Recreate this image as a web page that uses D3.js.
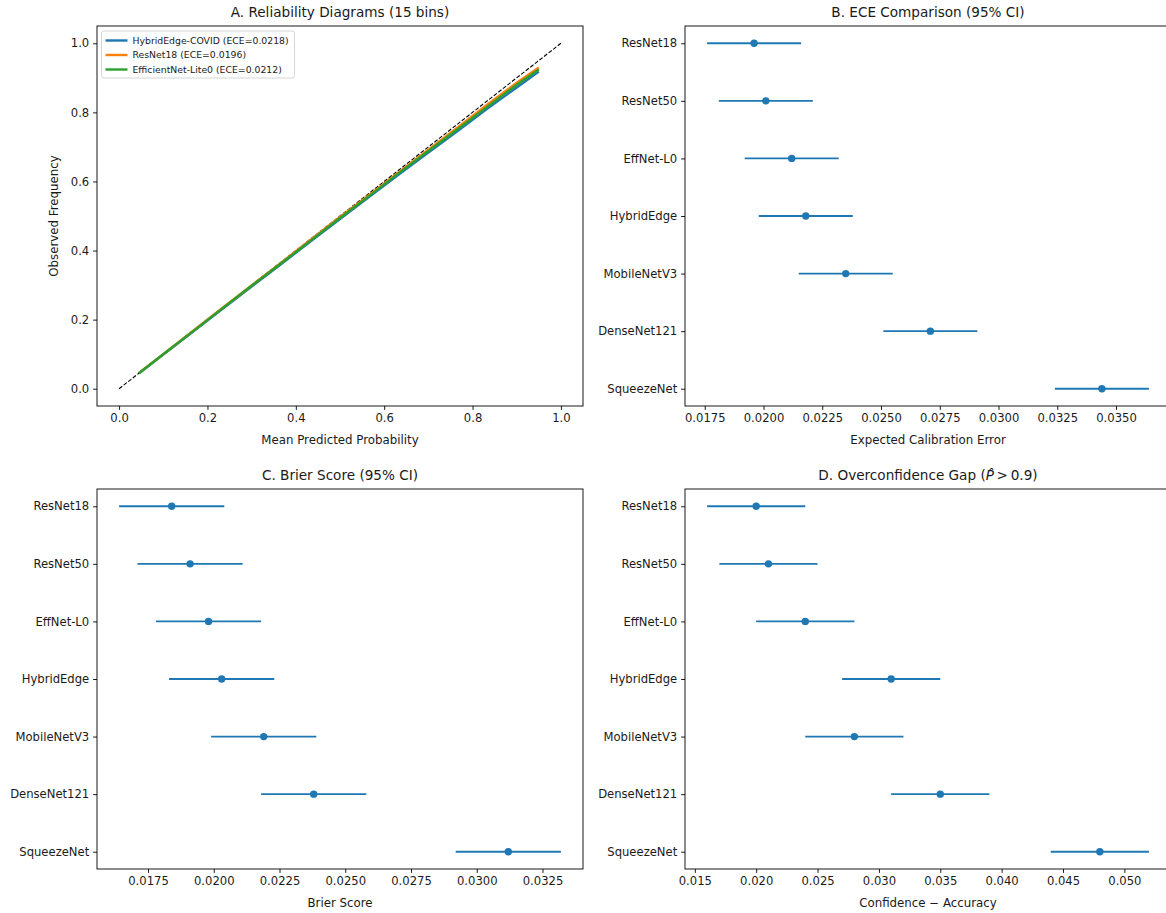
<!DOCTYPE html>
<html>
<head>
<meta charset="utf-8">
<script src="https://cdn.jsdelivr.net/npm/d3@7"></script>
<style>
  body { margin: 0; background: #fff; }
  svg { display: block; font-family: "DejaVu Sans", sans-serif; }
</style>
</head>
<body>
<div id="chart"></div>
<script>
// Reliability curves (panel A)
const relSeries = ['HybridEdge-COVID (ECE=0.0218)', 'ResNet18 (ECE=0.0196)', 'EfficientNet-Lite0 (ECE=0.0212)'];
const relColors = ['#1f77b4', '#ff7f0e', '#2ca02c'];
const relX = [0.045, 0.10, 0.167, 0.233, 0.30, 0.367, 0.433, 0.50, 0.567, 0.633, 0.70, 0.767, 0.833, 0.90, 0.95];
const relHybrid = [0.045, 0.099, 0.165, 0.230, 0.296, 0.361, 0.426, 0.491, 0.556, 0.620, 0.684, 0.747, 0.810, 0.872, 0.918];
const relResNet = [0.046, 0.100, 0.167, 0.233, 0.299, 0.365, 0.431, 0.497, 0.562, 0.627, 0.692, 0.757, 0.822, 0.886, 0.930];
const relEffNet = [0.045, 0.100, 0.166, 0.232, 0.298, 0.363, 0.428, 0.494, 0.559, 0.624, 0.688, 0.752, 0.816, 0.880, 0.924];
const relTicks = [0, 0.2, 0.4, 0.6, 0.8, 1.0];

// Model comparison (panels B-D)
const models = ['ResNet18', 'ResNet50', 'EffNet-L0', 'HybridEdge', 'MobileNetV3', 'DenseNet121', 'SqueezeNet'];
const eceMean = [0.0196, 0.0201, 0.0212, 0.0218, 0.0235, 0.0271, 0.0344];
const eceLo   = [0.0176, 0.0181, 0.0192, 0.0198, 0.0215, 0.0251, 0.0324];
const eceHi   = [0.0216, 0.0221, 0.0232, 0.0238, 0.0255, 0.0291, 0.0364];
const eceTicks = [0.0175, 0.0200, 0.0225, 0.0250, 0.0275, 0.0300, 0.0325, 0.0350];

const brierMean = [0.0184, 0.0191, 0.0198, 0.0203, 0.0219, 0.0238, 0.0312];
const brierLo   = [0.0164, 0.0171, 0.0178, 0.0183, 0.0199, 0.0218, 0.0292];
const brierHi   = [0.0204, 0.0211, 0.0218, 0.0223, 0.0239, 0.0258, 0.0332];
const brierTicks = [0.0175, 0.0200, 0.0225, 0.0250, 0.0275, 0.0300, 0.0325];

const gapMean = [0.020, 0.021, 0.024, 0.031, 0.028, 0.035, 0.048];
const gapLo   = [0.016, 0.017, 0.020, 0.027, 0.024, 0.031, 0.044];
const gapHi   = [0.024, 0.025, 0.028, 0.035, 0.032, 0.039, 0.052];
const gapTicks = [0.015, 0.020, 0.025, 0.030, 0.035, 0.040, 0.045, 0.050];

const W = 1166, H = 913;
const AW = 486, AH = 380;
const panels = {
  A: { left: 97, top: 26 },
  B: { left: 685, top: 26 },
  C: { left: 97, top: 489 },
  D: { left: 685, top: 489 }
};
const TICK = 3.9, PAD = 3.9;
const textCol = '#1a1a1a';

const svg = d3.select('#chart').append('svg')
  .attr('width', W).attr('height', H);

function styleAxis(g) {
  g.select('.domain').remove();
  g.selectAll('.tick line').attr('stroke', '#000').attr('stroke-width', 0.9);
  g.selectAll('.tick text').attr('fill', textCol).attr('font-size', '11.6px')
    .attr('font-family', '"DejaVu Sans", sans-serif');
}

function frame(g) {
  g.append('rect')
    .attr('x', 0).attr('y', 0).attr('width', AW).attr('height', AH)
    .attr('fill', 'none').attr('stroke', '#000').attr('stroke-width', 0.9);
}

function title(g, txt) {
  return g.append('text')
    .attr('x', AW / 2).attr('y', -9)
    .attr('text-anchor', 'middle')
    .attr('font-size', '13.6px').attr('fill', textCol)
    .text(txt);
}

function xlabel(g, txt) {
  g.append('text')
    .attr('x', AW / 2).attr('y', AH + 38)
    .attr('text-anchor', 'middle')
    .attr('font-size', '11.8px').attr('fill', textCol)
    .text(txt);
}

// ---------- Panel A ----------
(function () {
  const p = panels.A;
  const g = svg.append('g').attr('transform', `translate(${p.left},${p.top})`);
  const x = d3.scaleLinear().domain([-0.05, 1.05]).range([0, AW]);
  const y = d3.scaleLinear().domain([-0.05, 1.05]).range([AH, 0]);

  g.append('g').attr('transform', `translate(0,${AH})`)
    .call(d3.axisBottom(x).tickValues(relTicks).tickFormat(d3.format('.1f'))
      .tickSize(TICK).tickPadding(PAD))
    .call(styleAxis);
  g.append('g')
    .call(d3.axisLeft(y).tickValues(relTicks).tickFormat(d3.format('.1f'))
      .tickSize(TICK).tickPadding(PAD))
    .call(styleAxis);

  // perfect calibration
  g.append('path')
    .datum([[0, 0], [1, 1]])
    .attr('d', d3.line().x(d => x(d[0])).y(d => y(d[1])))
    .attr('fill', 'none').attr('stroke', '#000').attr('stroke-width', 1.1)
    .attr('stroke-dasharray', '4,1.8');

  const seriesVals = [relHybrid, relResNet, relEffNet];
  const line = d3.line().x((d, i) => x(relX[i])).y(d => y(d));
  seriesVals.forEach((vals, i) => {
    g.append('path')
      .datum(vals)
      .attr('d', line)
      .attr('fill', 'none')
      .attr('stroke', relColors[i])
      .attr('stroke-width', 2.4);
  });

  frame(g);
  title(g, 'A. Reliability Diagrams (15 bins)');
  xlabel(g, 'Mean Predicted Probability');
  g.append('text')
    .attr('transform', `translate(${-39},${AH / 2}) rotate(-90)`)
    .attr('text-anchor', 'middle')
    .attr('font-size', '11.8px').attr('fill', textCol)
    .text('Observed Frequency');

  // legend
  const lg = g.append('g').attr('transform', 'translate(4.5,5)');
  lg.append('rect')
    .attr('x', 0).attr('y', 0).attr('width', 193).attr('height', 47)
    .attr('rx', 2.5)
    .attr('fill', '#fff').attr('fill-opacity', 0.8)
    .attr('stroke', '#d0d0d0').attr('stroke-width', 0.9);
  relSeries.forEach((name, i) => {
    const yy = 9.5 + i * 14.5;
    lg.append('line')
      .attr('x1', 4).attr('x2', 26).attr('y1', yy).attr('y2', yy)
      .attr('stroke', relColors[i]).attr('stroke-width', 2.4);
    lg.append('text')
      .attr('x', 31).attr('y', yy).attr('dy', '0.35em')
      .attr('font-size', '9.3px').attr('fill', textCol)
      .text(name);
  });
})();

// ---------- Panels B-D ----------
function forestPanel(p, mean, lo, hi, ticks, fmt, xl) {
  const g = svg.append('g').attr('transform', `translate(${p.left},${p.top})`);
  const mn = d3.min(lo), mx = d3.max(hi);
  const m = (mx - mn) * 0.05;
  const x = d3.scaleLinear().domain([mn - m, mx + m]).range([0, AW]);
  const y = d3.scalePoint().domain(models).range([0, AH]).padding(0.3);

  g.append('g').attr('transform', `translate(0,${AH})`)
    .call(d3.axisBottom(x).tickValues(ticks).tickFormat(d3.format(fmt))
      .tickSize(TICK).tickPadding(PAD))
    .call(styleAxis);
  g.append('g')
    .call(d3.axisLeft(y).tickSize(TICK).tickPadding(PAD))
    .call(styleAxis);

  const rows = models.map((mdl, i) => ({ mdl, v: mean[i], lo: lo[i], hi: hi[i] }));
  g.selectAll('.err').data(rows).enter().append('line')
    .attr('class', 'err')
    .attr('x1', d => x(d.lo)).attr('x2', d => x(d.hi))
    .attr('y1', d => y(d.mdl)).attr('y2', d => y(d.mdl))
    .attr('stroke', '#1f77b4').attr('stroke-width', 1.8);
  g.selectAll('.dot').data(rows).enter().append('circle')
    .attr('class', 'dot')
    .attr('cx', d => x(d.v)).attr('cy', d => y(d.mdl))
    .attr('r', 3.7).attr('fill', '#1f77b4');

  frame(g);
  xlabel(g, xl);
  return title(g, '');
}

forestPanel(panels.B, eceMean, eceLo, eceHi, eceTicks, '.4f', 'Expected Calibration Error')
  .text('B. ECE Comparison (95% CI)');
forestPanel(panels.C, brierMean, brierLo, brierHi, brierTicks, '.4f', 'Brier Score')
  .text('C. Brier Score (95% CI)');
const tD = forestPanel(panels.D, gapMean, gapLo, gapHi, gapTicks, '.3f', 'Confidence \u2212 Accuracy');
tD.append('tspan').text('D. Overconfidence Gap (');
tD.append('tspan').attr('font-style', 'italic').text('P\u0302');
tD.append('tspan').text('\u2009>\u20090.9');
tD.append('tspan').text(')');
</script>
</body>
</html>
